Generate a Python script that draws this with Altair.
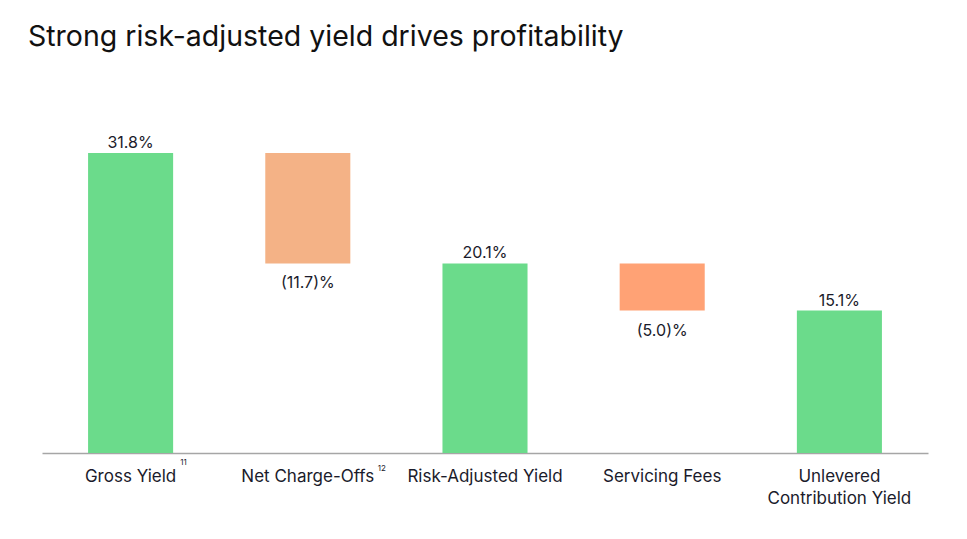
import altair as alt
import pandas as pd

categories = ["Gross Yield", "Net Charge-Offs", "Risk-Adjusted Yield", "Servicing Fees", "Unlevered\nContribution Yield"]
values = [31.8, -11.7, 20.1, -5.0, 15.1]
kinds = ["total", "delta", "total", "delta", "total"]
labels = ["31.8%", "(11.7)%", "20.1%", "(5.0)%", "15.1%"]
footnotes = ["11", "12", "", "", ""]
colors = ["#6BDB8B", "#F4B286", "#6BDB8B", "#FFA275", "#6BDB8B"]

rows = []
running = 0.0
for c, v, k, l, f, col in zip(categories, values, kinds, labels, footnotes, colors):
    if k == "total":
        start, end = 0.0, v
        running = v
    else:
        start, end = running, running + v
        running = running + v
    rows.append({"cat": c, "start": start, "end": end, "kind": k, "label": l,
                 "fn": f, "color": col})
df = pd.DataFrame(rows)

FONT = "Inter"
TXT = "#1B1B2B"
H = 340

x = alt.X("cat:N", sort=categories, title=None,
          scale=alt.Scale(paddingInner=0.52, paddingOuter=0.26),
          axis=alt.Axis(labelAngle=0, ticks=False, domainColor="#A6A6A6", domainWidth=1.5,
                        labelFont=FONT, labelFontSize=17, labelColor=TXT, labelPadding=15,
                        labelLineHeight=22, labelBaseline="top",
                        labelExpr="split(datum.label, '\\n')"))
yscale = alt.Scale(domain=[0, 36.04], nice=False, zero=True)

base = alt.Chart(df)
bars = base.mark_bar().encode(
    x=x,
    y=alt.Y("start:Q", scale=yscale, axis=None),
    y2="end:Q",
    color=alt.Color("color:N", scale=None),
)
top_labels = base.transform_filter("datum.kind == 'total'").mark_text(
    font=FONT, fontSize=16, color=TXT, baseline="bottom", dy=-2
).encode(x=alt.X("cat:N", sort=categories), y=alt.Y("end:Q", scale=yscale), text="label:N")
neg_labels = base.transform_filter("datum.kind == 'delta'").mark_text(
    font=FONT, fontSize=16, color=TXT, baseline="top", dy=12
).encode(x=alt.X("cat:N", sort=categories), y=alt.Y("end:Q", scale=yscale), text="label:N")
fn1 = base.transform_filter("datum.fn == '11'").mark_text(
    font=FONT, fontSize=8, color=TXT, dx=53, baseline="middle"
).encode(x=alt.X("cat:N", sort=categories), y=alt.value(H + 10), text="fn:N")
fn2 = base.transform_filter("datum.fn == '12'").mark_text(
    font=FONT, fontSize=8, color=TXT, dx=74, baseline="middle"
).encode(x=alt.X("cat:N", sort=categories), y=alt.value(H + 16), text="fn:N")

chart = alt.layer(bars, top_labels, neg_labels, fn1, fn2).properties(
    width=886, height=H,
    autosize=alt.AutoSizeParams(type="none"),
    padding={"left": 34, "top": 105, "right": 30, "bottom": 70},
    title=alt.TitleParams("Strong risk-adjusted yield drives profitability", anchor="start",
                          font=FONT, fontSize=28.5, fontWeight="normal", color="#111111",
                          dx=-14, offset=39, baseline="alphabetic"),
).configure_view(stroke=None)

chart.save("out.html", embed_options={"renderer": "svg", "actions": False})
